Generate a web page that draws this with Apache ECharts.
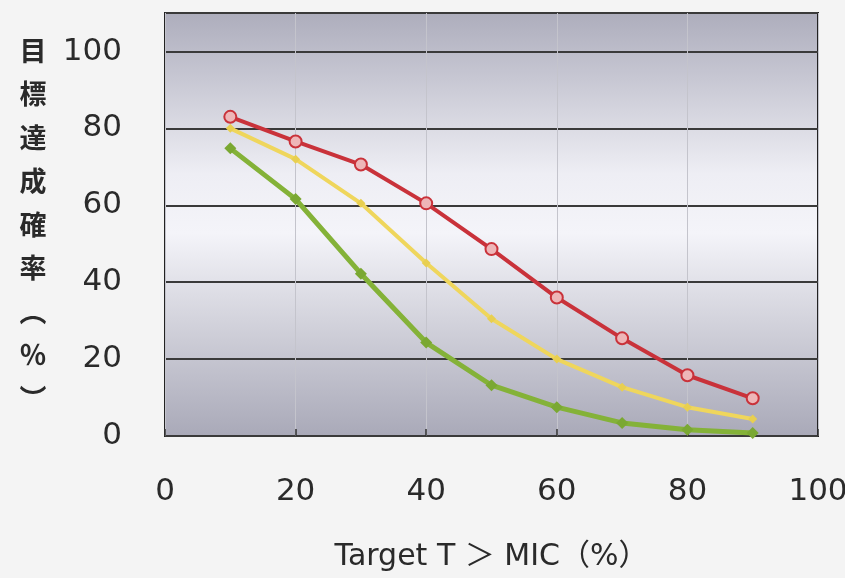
<!DOCTYPE html>
<html>
<head>
<meta charset="utf-8">
<script src="https://cdn.jsdelivr.net/npm/echarts@6/dist/echarts.min.js"></script>
<style>
html,body{margin:0;padding:0;background:#f4f4f4;}
#chart{width:845px;height:578px;}
</style>
</head>
<body>
<div id="chart"></div>
<script>
const xValues = [10, 20, 30, 40, 50, 60, 70, 80, 90];
const redValues = [83, 76.6, 70.6, 60.5, 48.6, 36, 25.4, 15.8, 9.8];
const yellowValues = [80, 72, 60.5, 45, 30.5, 20, 12.7, 7.5, 4.4];
const greenValues = [74.8, 61.6, 42.2, 24.3, 13.2, 7.5, 3.4, 1.6, 0.8];
const yAxisTitle = ['目', '標', '達', '成', '確', '率', '︵', '％', '︶'];
const xAxisTitle = 'Target T ＞ MIC（%）';

const pairs = v => xValues.map((x, i) => [x, v[i]]);
const cjk = "'Noto Sans CJK JP', sans-serif";
const num = "'DejaVu Sans', 'Noto Sans CJK JP', sans-serif";

const chart = echarts.init(document.getElementById('chart'));
chart.setOption({
  backgroundColor: '#f4f4f4',
  animation: false,
  grid: {
    left: 165, top: 13, right: 27, bottom: 142,
    outerBoundsMode: 'none',
    containLabel: false,
    show: true,
    borderColor: '#222', borderWidth: 2,
    backgroundColor: new echarts.graphic.LinearGradient(0, 0, 0, 1, [
      {offset: 0, color: '#adadbc'},
      {offset: 0.15, color: '#c6c6d2'},
      {offset: 0.38, color: '#eeeef4'},
      {offset: 0.52, color: '#f4f4f9'},
      {offset: 0.72, color: '#d4d4dd'},
      {offset: 1, color: '#a9a9b8'}
    ])
  },
  xAxis: {
    type: 'value', min: 0, max: 100, interval: 20,
    name: xAxisTitle, nameLocation: 'middle', nameGap: 106,
    nameTextStyle: {fontSize: 30, color: '#2a2a2a', fontFamily: num},
    axisLine: {show: false},
    axisTick: {show: true, inside: true, length: 7, lineStyle: {color: '#333', width: 1.5}},
    axisLabel: {fontSize: 31, color: '#2a2a2a', margin: 40, fontFamily: num},
    splitLine: {show: true, lineStyle: {color: '#c4c4cc', width: 1}}
  },
  yAxis: {
    type: 'value', min: 0, max: 110, interval: 20,
    name: yAxisTitle.join('\n'), nameLocation: 'middle', nameGap: 132, nameRotate: 0,
    nameTextStyle: {fontSize: 27, lineHeight: 43.5, color: '#2a2a2a', fontWeight: 'bold', fontFamily: cjk, align: 'center', verticalAlign: 'middle'},
    axisLine: {show: false},
    axisTick: {show: false},
    axisLabel: {fontSize: 31, color: '#2a2a2a', margin: 43, fontFamily: num, showMaxLabel: false,
      formatter: v => (v % 20 === 0 ? String(v) : '')},
    splitLine: {show: true, lineStyle: {color: '#3a3a3a', width: 2}}
  },
  series: [
    {
      type: 'line', data: pairs(greenValues), z: 3,
      lineStyle: {color: '#84b238', width: 5},
      symbol: 'diamond', symbolSize: 12,
      itemStyle: {color: '#7aa832'}
    },
    {
      type: 'line', data: pairs(yellowValues), z: 4,
      lineStyle: {color: '#efd65c', width: 4},
      symbol: 'diamond', symbolSize: 9,
      itemStyle: {color: '#e8cf50'}
    },
    {
      type: 'line', data: pairs(redValues), z: 5,
      lineStyle: {color: '#c9323a', width: 4},
      symbol: 'circle', symbolSize: 12,
      itemStyle: {color: '#eeb6b8', borderColor: '#c9323a', borderWidth: 2}
    }
  ]
});
</script>
</body>
</html>
